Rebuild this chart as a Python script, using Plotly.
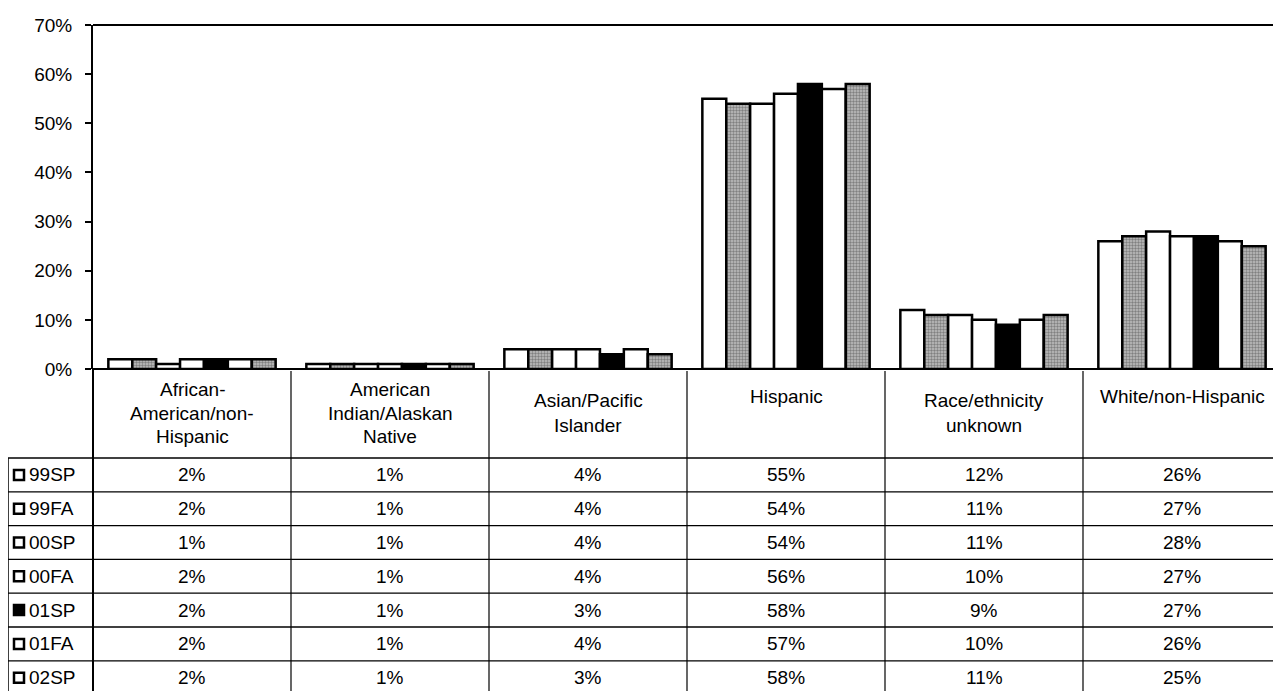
import plotly.graph_objects as go

categories = ["African-American/non-Hispanic", "American Indian/Alaskan Native",
              "Asian/Pacific Islander", "Hispanic", "Race/ethnicity unknown",
              "White/non-Hispanic"]
header_lines = [["African-", "American/non-", "Hispanic"],
                ["American", "Indian/Alaskan", "Native"],
                ["Asian/Pacific", "Islander"],
                ["Hispanic"],
                ["Race/ethnicity", "unknown"],
                ["White/non-Hispanic"]]
series_names = ["99SP", "99FA", "00SP", "00FA", "01SP", "01FA", "02SP"]
v_99SP = [2, 1, 4, 55, 12, 26]
v_99FA = [2, 1, 4, 54, 11, 27]
v_00SP = [1, 1, 4, 54, 11, 28]
v_00FA = [2, 1, 4, 56, 10, 27]
v_01SP = [2, 1, 3, 58, 9, 27]
v_01FA = [2, 1, 4, 57, 10, 26]
v_02SP = [2, 1, 3, 58, 11, 25]
series_values = [v_99SP, v_99FA, v_00SP, v_00FA, v_01SP, v_01FA, v_02SP]
y_ticks = [0, 10, 20, 30, 40, 50, 60, 70]

# styles: (fill, patterned)
styles = [("white", False), ("gray", True), ("white", False), ("white", False),
          ("black", False), ("white", False), ("gray", True)]

# page coordinates (the browser adds an 8px body margin)
OFF = 8
PAGE_W, PAGE_H = 1281, 691
W, H = PAGE_W - OFF, PAGE_H - OFF
L, R, T, B = 93, 1281, 25, 369  # plot area in page pixels
FONT = "Liberation Sans, Arial, sans-serif"
FS = 19


def px(xp):
    return (xp - L) / (R - L)


def py(yp):
    return (B - yp) / (B - T)


fig = go.Figure()
for name, vals, (fill, pat) in zip(series_names, series_values, styles):
    if pat:
        marker = dict(color="#bcbcbc", line=dict(color="black", width=2.5),
                      pattern=dict(shape=".", fgcolor="#404040", bgcolor="#c0c0c0",
                                   size=3, solidity=0.5))
    else:
        marker = dict(color=fill, line=dict(color="black", width=2.5))
    fig.add_trace(go.Bar(name=name, x=list(range(len(categories))), y=vals,
                         marker=marker, showlegend=False,
                         hovertext=categories,
                         hovertemplate="%{hovertext}: %{y}%<extra>" + name + "</extra>"))

shapes = []
ann = []
line_c = "black"
# plot top border
shapes.append(dict(type="line", xref="paper", yref="paper", x0=0, x1=1, y0=1, y1=1,
                   line=dict(color=line_c, width=2)))
# table geometry (page pixels)
header_bottom = 458
row_h = 33.8
n_rows = len(series_names)
table_bottom = 700
legend_left = 8
# x-axis baseline
shapes.append(dict(type="line", xref="paper", yref="paper", x0=0, x1=1, y0=0, y1=0,
                   line=dict(color=line_c, width=2)))
# column separators
for i in range(len(categories) + 1):
    xx = px(L + i * (R - L) / len(categories))
    shapes.append(dict(type="line", xref="paper", yref="paper", x0=xx, x1=xx,
                       y0=py(B if i == 0 else B + 2), y1=py(table_bottom),
                       line=dict(color=line_c, width=2 if i == 0 else 1.2)))
# legend column left border
shapes.append(dict(type="line", xref="paper", yref="paper", x0=px(legend_left), x1=px(legend_left),
                   y0=py(header_bottom), y1=py(table_bottom), line=dict(color=line_c, width=1.5)))
# horizontal row lines
for r in range(n_rows + 1):
    yy = py(header_bottom + r * row_h)
    shapes.append(dict(type="line", xref="paper", yref="paper", x0=px(legend_left), x1=1,
                       y0=yy, y1=yy, line=dict(color=line_c, width=1.3)))

# header labels (one annotation per line, Excel-like line spacing)
line_pos = {1: [396], 2: [400, 425], 3: [390, 413, 436]}
for i, lines in enumerate(header_lines):
    for ln, yy in zip(lines, line_pos[len(lines)]):
        ann.append(dict(x=i, y=py(yy), xref="x", yref="paper", text=ln, showarrow=False,
                        xanchor="center", yanchor="middle",
                        font=dict(family=FONT, size=FS, color="black")))

# rows
for r, (name, vals, (fill, pat)) in enumerate(zip(series_names, series_values, styles)):
    cy = header_bottom + r * row_h + row_h / 2
    key_fill = "black" if fill == "black" else "white"
    shapes.append(dict(type="rect", xref="paper", yref="paper",
                       x0=px(14), x1=px(24), y0=py(cy - 5), y1=py(cy + 5),
                       fillcolor=key_fill, line=dict(color="black", width=2.5)))
    ann.append(dict(x=px(27), y=py(cy), xref="paper", yref="paper", text=name,
                    showarrow=False, xanchor="left", yanchor="middle",
                    font=dict(family=FONT, size=FS, color="black")))
    for i, v in enumerate(vals):
        ann.append(dict(x=i, y=py(cy), xref="x", yref="paper", text=f"{v}%",
                        showarrow=False, xanchor="center", yanchor="middle",
                        font=dict(family=FONT, size=FS, color="black")))

fig.update_layout(
    width=W, height=H,
    margin=dict(l=L - OFF, r=PAGE_W - R, t=T - OFF, b=H - (B - OFF), pad=0),
    paper_bgcolor="white", plot_bgcolor="white",
    barmode="group", bargap=0.155, bargroupgap=0,
    shapes=shapes, annotations=ann,
    font=dict(family=FONT, size=FS, color="black"),
    xaxis=dict(range=[-0.5, len(categories) - 0.5], showticklabels=False, ticks="",
               showgrid=False, zeroline=False, showline=False, fixedrange=True),
    yaxis=dict(range=[0, 70], tickvals=y_ticks, ticktext=[f"{t}%" for t in y_ticks],
               ticks="outside", ticklen=6, tickwidth=1.5, tickcolor="black",
               ticklabelstandoff=9,
               showgrid=False, zeroline=False, showline=True, linecolor="black",
               linewidth=2, tickfont=dict(family=FONT, size=FS, color="black"),
               fixedrange=True),
)

fig.write_html("out.html")
